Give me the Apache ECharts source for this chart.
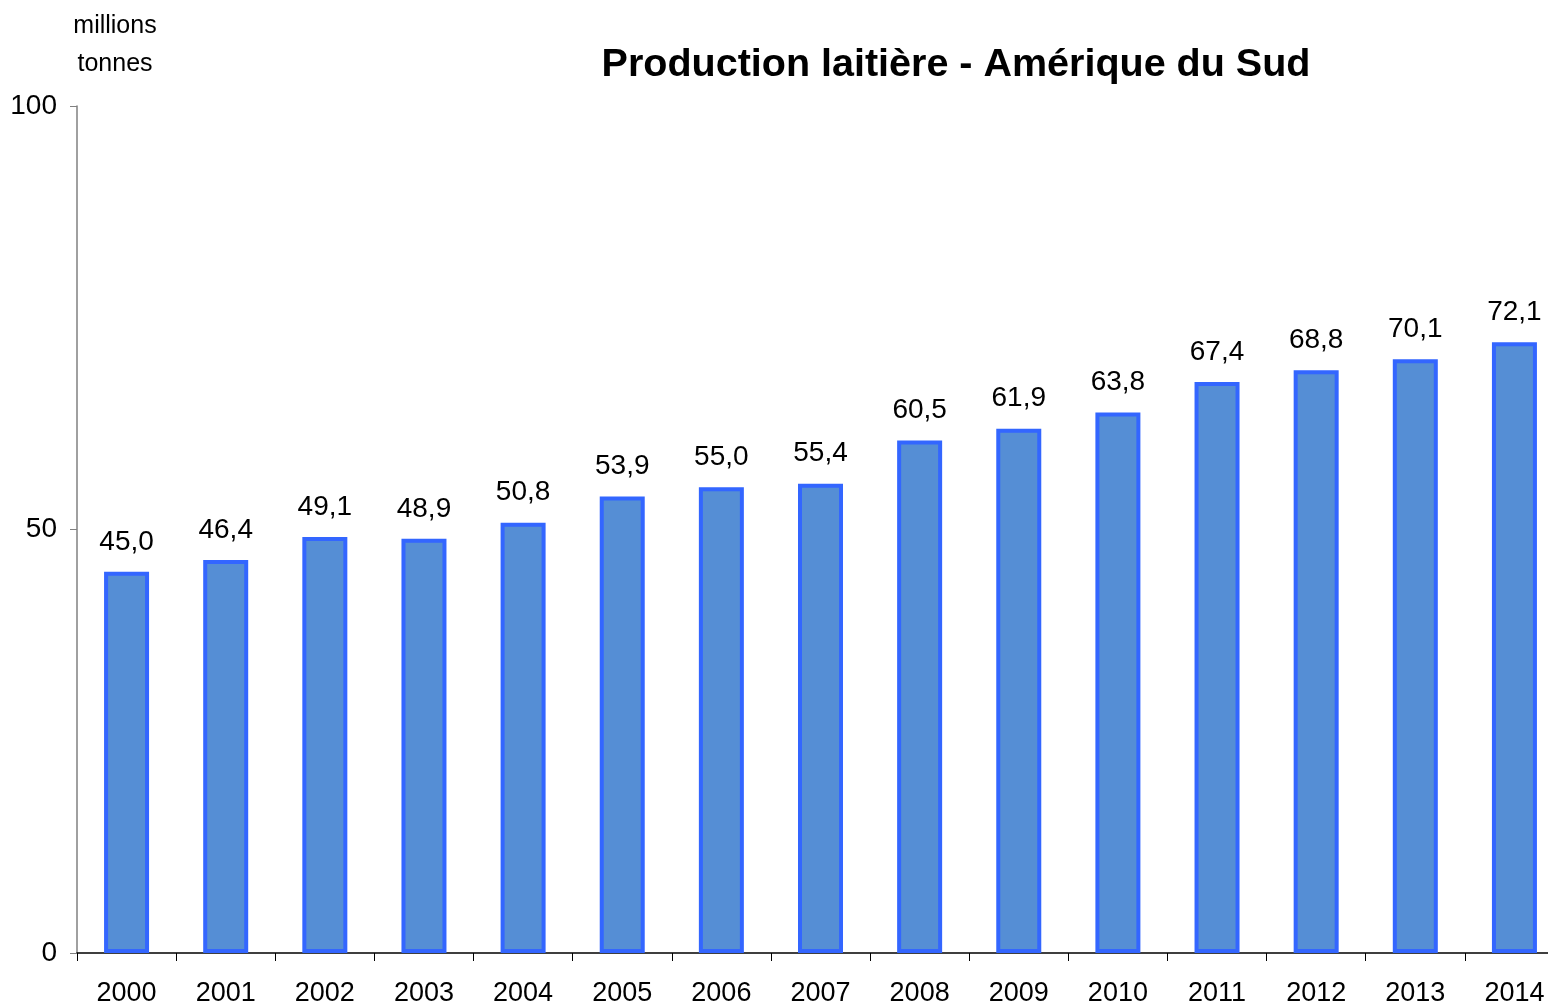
<!DOCTYPE html>
<html>
<head>
<meta charset="utf-8">
<script src="https://cdn.jsdelivr.net/npm/echarts@6/dist/echarts.min.js"></script>
<style>
  html, body { margin: 0; padding: 0; background: #fff; overflow: hidden; }
  /* le dernier intervalle dépasse le bord droit, comme dans l'original */
  #chart { width: 1564px; height: 1007px; }
</style>
</head>
<body>
<div id="chart"></div>
<script>
// années et production (millions de tonnes)
const years = ["2000", "2001", "2002", "2003", "2004", "2005", "2006", "2007",
  "2008", "2009", "2010", "2011", "2012", "2013", "2014"];
const production = [45.0, 46.4, 49.1, 48.9, 50.8, 53.9, 55.0, 55.4,
  60.5, 61.9, 63.8, 67.4, 68.8, 70.1, 72.1];
const yTicks = [0, 50, 100];

const font = "Liberation Sans, Arial, sans-serif";
const chart = echarts.init(document.getElementById("chart"));

chart.setOption({
  animation: false,
  textStyle: { fontFamily: font },
  title: [
    {
      text: "Production laitière - Amérique du Sud",
      left: 951,
      top: 40,
      textAlign: "center",
      textStyle: { fontSize: 39.5, fontWeight: "bold", color: "#000", fontFamily: font },
    },
    {
      text: "millions\ntonnes",
      left: 110,
      top: 2,
      textAlign: "center",
      textStyle: { fontSize: 25, fontWeight: "normal", color: "#000", lineHeight: 38, fontFamily: font },
    },
  ],
  grid: { left: 77, top: 106, right: 0, bottom: 52, containLabel: false },
  xAxis: {
    type: "category",
    data: years,
    axisLine: { lineStyle: { color: "#000", width: 1.5 } },
    axisTick: { show: true, length: 8, lineStyle: { color: "#000" } },
    axisLabel: { color: "#000", fontSize: 27, margin: 27, fontFamily: font },
  },
  yAxis: {
    type: "value",
    min: 0,
    max: 100,
    interval: 50,
    axisLine: { show: true, lineStyle: { color: "#808080", width: 1.5 } },
    axisTick: { show: true, length: 7, lineStyle: { color: "#808080" } },
    axisLabel: {
      color: "#000", fontSize: 28, margin: 20, fontFamily: font,
      formatter: (v) => (yTicks.includes(v) ? String(v) : ""),
    },
    splitLine: { show: false },
  },
  series: [
    {
      type: "bar",
      data: production,
      barWidth: 45,
      itemStyle: { color: "#558ed5", borderColor: "#3366ff", borderWidth: 4 },
      label: {
        show: true,
        position: "top",
        distance: 16,
        color: "#000",
        fontSize: 28,
        fontFamily: font,
        formatter: (p) => p.value.toFixed(1).replace(".", ","),
      },
    },
  ],
});
</script>
</body>
</html>
